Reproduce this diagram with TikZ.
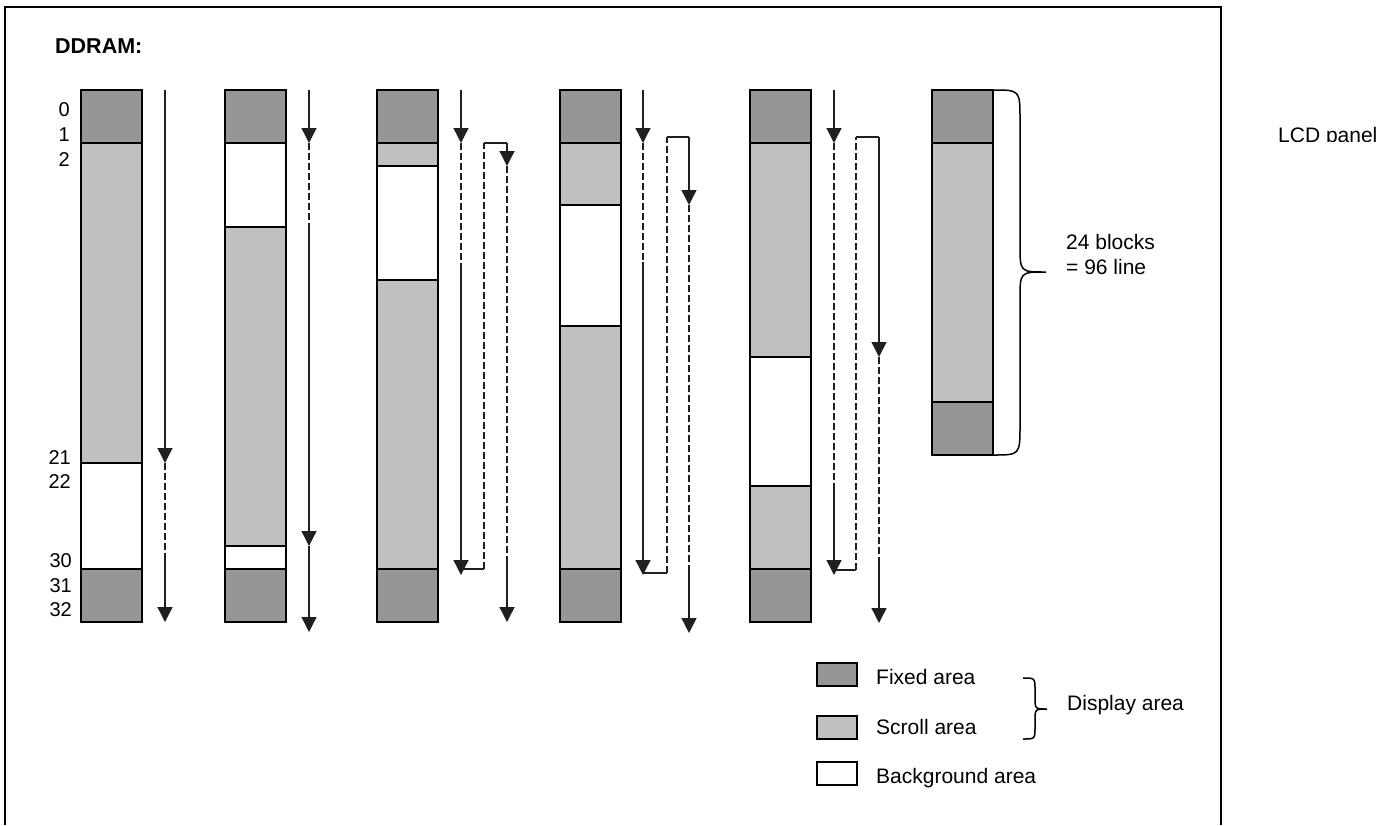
\documentclass[tikz,border=0pt]{standalone}
\usepackage{fontspec}
\setmainfont{Liberation Sans}
\usepackage{tikz}
\usetikzlibrary{arrows.meta,calc,positioning}
\definecolor{fixgray}{HTML}{969696}
\definecolor{scrollgray}{HTML}{C0C0C0}
\definecolor{linegray}{HTML}{202020}
\tikzset{
  block/.style={draw=black,line width=2pt},
  fixedarea/.style={block,fill=fixgray},
  scrollarea/.style={block,fill=scrollgray},
  bgarea/.style={block,fill=white},
  flow/.style={linegray,line width=1.3pt},
  flowtip/.style={flow,-{Triangle[width=15pt,length=15pt]}},
  flowdash/.style={flow,dash pattern=on 7pt off 3pt},
  lbl/.style={inner sep=0pt,font=\fontsize{21}{25}\selectfont},
  rowno/.style={inner sep=0pt,anchor=base east,font=\fontsize{20}{24}\selectfont},
  brace/.style={black,line width=1.5pt}
}
\begin{document}
\begin{tikzpicture}[x=1pt,y=-1pt]
\useasboundingbox (0,0) rectangle (1396,825);
% frame
\draw[line width=2pt] (5,825) -- (5,7) -- (1221,7) -- (1221,825);
\node[lbl,anchor=base west,font=\fontsize{21.5}{25}\selectfont\bfseries] (ddram) at (55,53) {DDRAM:};

% row numbers
\node[rowno] (r0) at (70,116) {0};
\node[rowno] (r1) at (70,141) {1};
\node[rowno] (r2) at (70,166) {2};
\node[rowno] (r21) at (71,464) {21};
\node[rowno] (r22) at (71,488) {22};
\node[rowno] (r30) at (72,567) {30};
\node[rowno] (r31) at (72,592) {31};
\node[rowno] (r32) at (72,616) {32};

% column 1
\draw[scrollarea] (81,143) rectangle (142,463);
\draw[bgarea] (81,463) rectangle (142,569);
% column 2
\draw[bgarea] (225,143) rectangle (286,227);
\draw[scrollarea] (225,227) rectangle (286,546);
\draw[bgarea] (225,546) rectangle (286,569);
% column 3
\draw[scrollarea] (377,143) rectangle (438,166);
\draw[bgarea] (377,166) rectangle (438,280);
\draw[scrollarea] (377,280) rectangle (438,569);
% column 4
\draw[scrollarea] (560,143) rectangle (621,205);
\draw[bgarea] (560,205) rectangle (621,326);
\draw[scrollarea] (560,326) rectangle (621,569);
% column 5
\draw[scrollarea] (750,143) rectangle (811,357);
\draw[bgarea] (750,357) rectangle (811,486);
\draw[scrollarea] (750,486) rectangle (811,569);
% fixed areas top and bottom
\foreach \xl in {81,225,377,560,750} {
  \draw[fixedarea] (\xl,90) rectangle (\xl+61,143);
  \draw[fixedarea] (\xl,569) rectangle (\xl+61,622);
}

% scan arrows, column 1
\draw[flowtip] (165,90) -- (165,463);
\draw[flowdash] (165,463) -- (165,560);
\draw[flowtip] (165,560) -- (165,622);
% column 2
\draw[flowtip] (309,90) -- (309,143);
\draw[flowdash] (309,143) -- (309,224);
\draw[flowtip] (309,224) -- (309,546);
\draw[flowtip] (309,546) -- (309,632);
% column 3
\draw[flowtip] (461,90) -- (461,143);
\draw[flowdash] (461,143) -- (461,265);
\draw[flowtip] (461,265) -- (461,575);
\draw[flow] (461,569) -- (484,569);
\draw[flowdash] (484,569) -- (484,143);
\draw[flow] (484,143) -- (507,143);
\draw[flowtip] (507,143) -- (507,166);
\draw[flowdash] (507,166) -- (507,560);
\draw[flowtip] (507,560) -- (507,622);
% column 4
\draw[flowtip] (643,90) -- (643,143);
\draw[flowdash] (643,143) -- (643,262);
\draw[flowtip] (643,262) -- (643,575);
\draw[flow] (643,573) -- (667,573);
\draw[flowdash] (667,573) -- (667,137);
\draw[flow] (667,137) -- (689,137);
\draw[flowtip] (689,137) -- (689,205);
\draw[flowdash] (689,205) -- (689,572);
\draw[flowtip] (689,572) -- (689,633);
% column 5
\draw[flowtip] (834,90) -- (834,143);
\draw[flowdash] (834,143) -- (834,483);
\draw[flowtip] (834,483) -- (834,575);
\draw[flow] (834,570) -- (856,570);
\draw[flowdash] (856,570) -- (856,137);
\draw[flow] (856,137) -- (879,137);
\draw[flowtip] (879,137) -- (879,357);
\draw[flowdash] (879,357) -- (879,563);
\draw[flowtip] (879,563) -- (879,623);

% LCD panel column
\draw[scrollarea] (932,143) rectangle (993,402);
\draw[fixedarea] (932,90) rectangle (993,143);
\draw[fixedarea] (932,402) rectangle (993,455);
\draw[brace] (993,90) .. controls (1020,90) .. (1020,120) -- (1020,245)
  .. controls (1020,272) .. (1046,272) .. controls (1020,272) .. (1020,299)
  -- (1020,425) .. controls (1020,455) .. (993,455);
\node[lbl,anchor=base west] (blocks) at (1066,249) {24 blocks};
\node[lbl,anchor=base west] (lines) at (1066,274) {= 96 line};
\begin{scope}
\clip (1250,110) rectangle (1396,141.5);
\node[lbl,anchor=base west] (panel) at (1278,142) {LCD panel};
\end{scope}

% legend
\draw[fixedarea] (817,663) rectangle (857,686);
\draw[scrollarea] (817,716) rectangle (857,739);
\draw[bgarea] (817,762) rectangle (857,785);
\node[lbl,anchor=base west] (fixlbl) at (876,684) {Fixed area};
\node[lbl,anchor=base west] (scrlbl) at (876,734) {Scroll area};
\node[lbl,anchor=base west] (bglbl) at (876,783) {Background area};
\draw[brace] (1023,678) .. controls (1035,678) .. (1035,690) -- (1035,697)
  .. controls (1035,709) .. (1047,709) .. controls (1035,709) .. (1035,721)
  -- (1035,727) .. controls (1035,739) .. (1023,739);
\node[lbl,anchor=base west] (displbl) at (1067,710) {Display area};
\end{tikzpicture}
\end{document}
